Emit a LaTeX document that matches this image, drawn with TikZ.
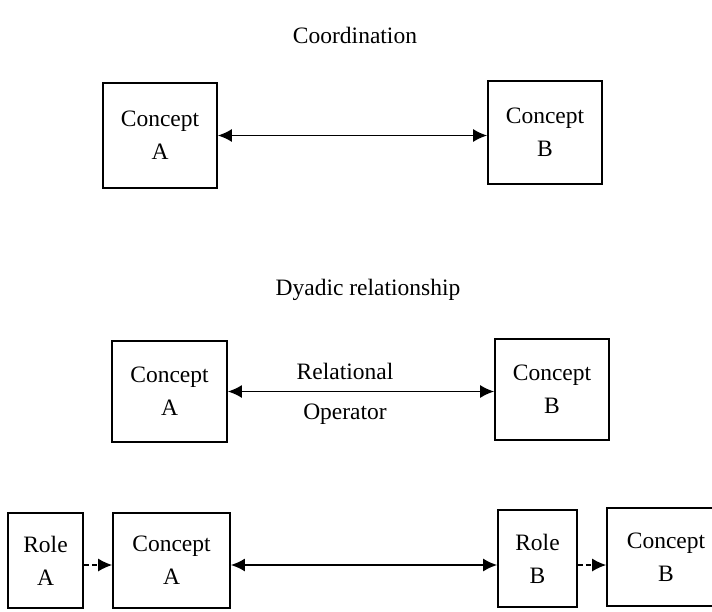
\documentclass[tikz,border=0pt]{standalone}
\usepackage{fontspec}
\setmainfont{Liberation Serif}
\usetikzlibrary{arrows.meta}
\begin{document}
\begin{tikzpicture}[x=1pt,y=-1pt,
  font=\fontsize{23.5}{33}\selectfont,
  box/.style={draw, line width=1.7pt, align=center, inner sep=0pt},
  link/.style={line width=1.7pt, {Latex[length=14pt,width=13pt]}-{Latex[length=14pt,width=13pt]}},
  dlink/.style={line width=1.4pt, dash pattern=on 5pt off 3pt, -{Latex[length=14pt,width=13pt]}}]
\useasboundingbox (0,0) rectangle (712,611);
% titles
\node (t1) at (355,35) {Coordination};
\node (t2) at (368,290) {Dyadic relationship};
% coordination
\node[box, minimum width=114pt, minimum height=105pt] (A1) at (160,135.5) {Concept\\A};
\node[box, minimum width=114pt, minimum height=103pt] (B1) at (545,132.5) {Concept\\B};
\draw[link] (A1.east) -- (A1.east -| B1.west);
% dyadic
\node[box, minimum width=115pt, minimum height=101pt] (A2) at (169.5,391.5) {Concept\\A};
\node[box, minimum width=114pt, minimum height=101pt] (B2) at (552,389.5) {Concept\\B};
\draw[link] (A2.east) -- (A2.east -| B2.west)
  node[pos=0.44, above=8pt] (rel) {Relational}
  node[pos=0.44, below=8pt] (op) {Operator};
% roles
\coordinate (r3) at (0,565);
\node[box, minimum width=75pt, minimum height=95pt] (RA) at (45.5,560.5) {Role\\A};
\node[box, minimum width=117pt, minimum height=95pt] (CA) at (171.5,560.5) {Concept\\A};
\node[box, minimum width=79pt, minimum height=97pt] (RB) at (537.5,558.5) {Role\\B};
\node[box, minimum width=118pt, minimum height=98pt] (CB) at (666,557) {Concept\\B};
\draw[dlink] (RA.east |- r3) -- (CA.west |- r3);
\draw[link] (CA.east |- r3) -- (RB.west |- r3);
\draw[dlink] (RB.east |- r3) -- (CB.west |- r3);
\end{tikzpicture}
\end{document}
